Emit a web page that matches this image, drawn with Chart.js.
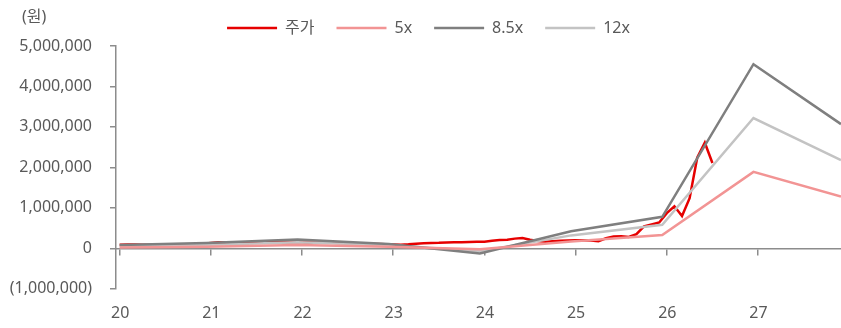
<!DOCTYPE html>
<html>
<head>
<meta charset="utf-8">
<script src="https://cdn.jsdelivr.net/npm/chart.js@4"></script>
<style>
  html, body { margin: 0; padding: 0; background: #ffffff; }
  #wrap { width: 841px; height: 328px; }
</style>
</head>
<body>
<div id="wrap"><canvas id="bandChart" width="841" height="328"></canvas></div>
<script>
const yearLabels = [20, 21, 22, 23, 24, 25, 26, 27];
const unitLabel = "(원)";
const seriesNames = ["주가", "5x", "8.5x", "12x"];

// monthly close, starting Jan '20
const priceStartYear = 20;
const price = [
  90000, 95000, 95000, 90000, 90000, 85000, 90000, 90000, 95000, 100000, 105000, 115000,
  135000, 150000, 145000, 140000, 135000, 140000, 145000, 150000, 150000, 155000, 150000, 150000,
  150000, 145000, 140000, 140000, 135000, 130000, 125000, 120000, 115000, 110000, 105000, 100000,
  95000, 90000, 100000, 115000, 125000, 130000, 135000, 145000, 150000, 150000, 155000, 160000,
  165000, 190000, 205000, 215000, 240000, 255000, 210000, 180000, 165000, 175000, 185000, 195000,
  200000, 200000, 195000, 175000, 250000, 290000, 300000, 280000, 350000, 540000, 590000, 640000,
  870000, 1040000, 800000, 1240000, 2240000, 2610000, 2110000
];

// PER band points (year-end)
const bandYears = [20, 20.95, 21.95, 22.95, 23.95, 24.95, 25.95, 26.95, 27.91];
const band5 = [20000, 40000, 80000, 40000, -25000, 170000, 330000, 1890000, 1280000];
const band85 = [80000, 130000, 220000, 110000, -125000, 420000, 780000, 4550000, 3070000];
const band12 = [45000, 85000, 150000, 80000, -70000, 320000, 580000, 3220000, 2180000];

const textColor = "#595959";
const axisColor = "#8c8c8c";
const font = { family: "'Noto Sans', 'Noto Sans CJK KR', sans-serif", size: 16 };

const toPoints = (xs, ys) => ys.map((v, i) => ({ x: xs[i], y: v }));
const pricePoints = price.map((v, i) => ({ x: priceStartYear + i / 12, y: v }));

const isYear = (v) => yearLabels.includes(Math.round(v * 100) / 100);
const yearTickColor = (ctx) => (ctx.tick && isYear(ctx.tick.value) ? axisColor : "rgba(0,0,0,0)");

const unitText = {
  id: "unitText",
  afterDraw(chart) {
    const ctx = chart.ctx;
    ctx.save();
    ctx.fillStyle = textColor;
    ctx.font = `${font.size}px ${font.family}`;
    ctx.textAlign = "left";
    ctx.textBaseline = "middle";
    ctx.fillText(unitLabel, 22, 17);
    ctx.restore();
  },
};

const shiftLegend = {
  id: "shiftLegend",
  afterLayout(chart) {
    chart.legend.left += 8;
    chart.legend.right += 8;
  },
};

function lineSet(label, data, color, order) {
  return {
    label,
    data,
    borderColor: color,
    backgroundColor: color,
    borderWidth: 2.5,
    pointRadius: 0,
    tension: 0,
    order,
  };
}

new Chart(document.getElementById("bandChart"), {
  type: "line",
  data: {
    datasets: [
      lineSet(seriesNames[0], pricePoints, "#e60000", 1),
      lineSet(seriesNames[1], toPoints(bandYears, band5), "#f29494", 0),
      lineSet(seriesNames[2], toPoints(bandYears, band85), "#7f7f7f", 0),
      lineSet(seriesNames[3], toPoints(bandYears, band12), "#c3c3c3", 0),
    ],
  },
  options: {
    responsive: false,
    animation: false,
    layout: { padding: { left: 0, right: 0, top: -2, bottom: -11 } },
    plugins: {
      legend: {
        position: "top",
        labels: {
          color: textColor,
          font,
          usePointStyle: true,
          pointStyle: "line",
          pointStyleWidth: 50,
          padding: 22,
          sort: (a, b) => a.datasetIndex - b.datasetIndex,
        },
      },
      tooltip: { enabled: false },
    },
    scales: {
      x: {
        type: "linear",
        min: 19.96,
        max: 27.91,
        grid: { display: false, drawTicks: false },
        border: { display: false },
        ticks: {
          stepSize: 1,
          includeBounds: false,
          color: textColor,
          font,
          padding: 15.5,
          labelOffset: 0.5,
          autoSkip: false,
          maxRotation: 0,
          callback: (v) => (isYear(v) ? String(Math.round(v)) : ""),
        },
      },
      x0: {
        type: "linear",
        position: { y: 0 },
        min: 19.96,
        max: 27.91,
        grid: { drawOnChartArea: false, drawTicks: true, tickLength: 6, color: yearTickColor, lineWidth: 1.5 },
        border: { display: true, color: axisColor, width: 1.5 },
        ticks: { display: false, autoSkip: false, stepSize: 1, includeBounds: false },
      },
      y: {
        min: -1000000,
        max: 5000000,
        afterFit: (scale) => { scale.width = 116; },
        grid: { drawOnChartArea: false, drawTicks: true, tickLength: 6, color: axisColor, lineWidth: 1.5 },
        border: { display: true, color: axisColor, width: 1.5 },
        ticks: {
          stepSize: 1000000,
          color: textColor,
          font,
          padding: 18,
          callback: (v) => (v < 0 ? `(${Math.abs(v).toLocaleString("en-US")})` : v.toLocaleString("en-US")),
        },
      },
    },
  },
  plugins: [unitText, shiftLegend],
});
</script>
</body>
</html>
